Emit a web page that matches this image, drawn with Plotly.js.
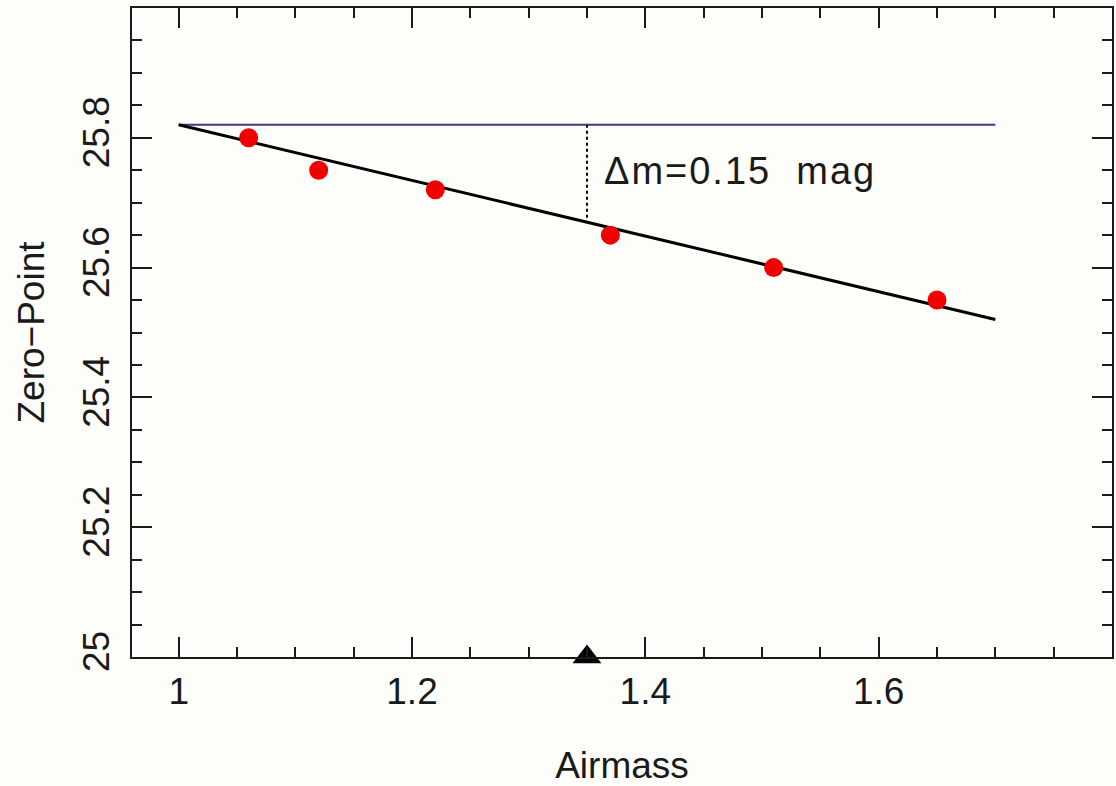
<!DOCTYPE html>
<html>
<head>
<meta charset="utf-8">
<script src="https://cdn.plot.ly/plotly-3.0.1.min.js"></script>
<style>
  html, body { margin: 0; padding: 0; background: #fdfdf9; }
  #chart { width: 1116px; height: 786px; }
  .annotation-text { letter-spacing: 2px; }
</style>
</head>
<body>
<div id="chart"></div>
<script>
// Observed standard-star zero-points vs airmass
const airmass   = [1.06, 1.12, 1.22, 1.37, 1.51, 1.65];
const zeroPoint = [25.80, 25.75, 25.72, 25.65, 25.60, 25.55];

// Linear extinction fit
const fitX = [1.0, 1.7];
const fitY = [25.82, 25.52];

// Reference (airmass 1) zero-point level
const refX = [1.0, 1.7];
const refY = [25.82, 25.82];

// Delta-m marker at airmass 1.35
const deltaX = [1.35, 1.35];
const deltaY = [25.82, 25.67];
const markAirmass = [1.35];
const markZero = [25.0];
const deltaLabel = "\u0394m=0.15  mag";

// Axis ticks
const xTicks = [1, 1.2, 1.4, 1.6];
const xTickText = ["1", "1.2", "1.4", "1.6"];
const yTicks = [25, 25.2, 25.4, 25.6, 25.8];
const yTickText = ["25", "25.2", "25.4", "25.6", "25.8"];

const FONT = "Liberation Sans, Arial, sans-serif";
const INK = "#1a1a1a";
const BG = "#fdfdf9";

const traces = [
  { x: refX, y: refY, mode: "lines", line: { color: "#3b3b8a", width: 2 }, hoverinfo: "skip", showlegend: false },
  { x: fitX, y: fitY, mode: "lines", line: { color: "#000000", width: 3 }, hoverinfo: "skip", showlegend: false },
  { x: deltaX, y: deltaY, mode: "lines", line: { color: "#000000", width: 2, dash: "dot" }, hoverinfo: "skip", showlegend: false },
  { x: airmass, y: zeroPoint, mode: "markers", marker: { color: "#f00000", size: 19 }, showlegend: false },
  { x: markAirmass, y: markZero, mode: "markers", cliponaxis: false,
    marker: { color: "#000000", symbol: "triangle-up", size: 25 }, showlegend: false }
];

const axisCommon = {
  showgrid: false, zeroline: false,
  showline: true, linecolor: INK, linewidth: 2, mirror: "allticks",
  ticks: "inside", ticklen: 20, tickwidth: 2, tickcolor: INK,
  tickfont: { family: FONT, size: 37, color: INK },
  minor: { ticks: "inside", ticklen: 10, tickwidth: 2, tickcolor: INK, dtick: 0.05, showgrid: false }
};

const layout = {
  width: 1116, height: 786,
  margin: { l: 132, r: 4, t: 8, b: 129 },
  paper_bgcolor: BG, plot_bgcolor: BG,
  font: { family: FONT, color: INK },
  showlegend: false,
  xaxis: Object.assign({}, axisCommon, {
    range: [0.96, 1.8],
    tickmode: "array", tickvals: xTicks, ticktext: xTickText,
    minor: Object.assign({}, axisCommon.minor, { tick0: 1 }),
    ticklabelstandoff: 1,
    title: { text: "Airmass", font: { family: FONT, size: 37, color: INK }, standoff: 50 }
  }),
  yaxis: Object.assign({}, axisCommon, {
    range: [25, 26],
    tickmode: "array", tickvals: yTicks, ticktext: yTickText,
    tickangle: -90,
    minor: Object.assign({}, axisCommon.minor, { tick0: 25 }),
    ticklabelstandoff: 6,
    title: { text: "Zero\u2212Point", font: { family: FONT, size: 37, color: INK }, standoff: 20 }
  }),
  annotations: [{
    x: 1.3626, y: 25.749, xref: "x", yref: "y",
    text: deltaLabel, showarrow: false, xanchor: "left", yanchor: "middle",
    font: { family: FONT, size: 38, color: INK }
  }]
};

Plotly.newPlot("chart", traces, layout, { staticPlot: true, displayModeBar: false });
</script>
</body>
</html>
